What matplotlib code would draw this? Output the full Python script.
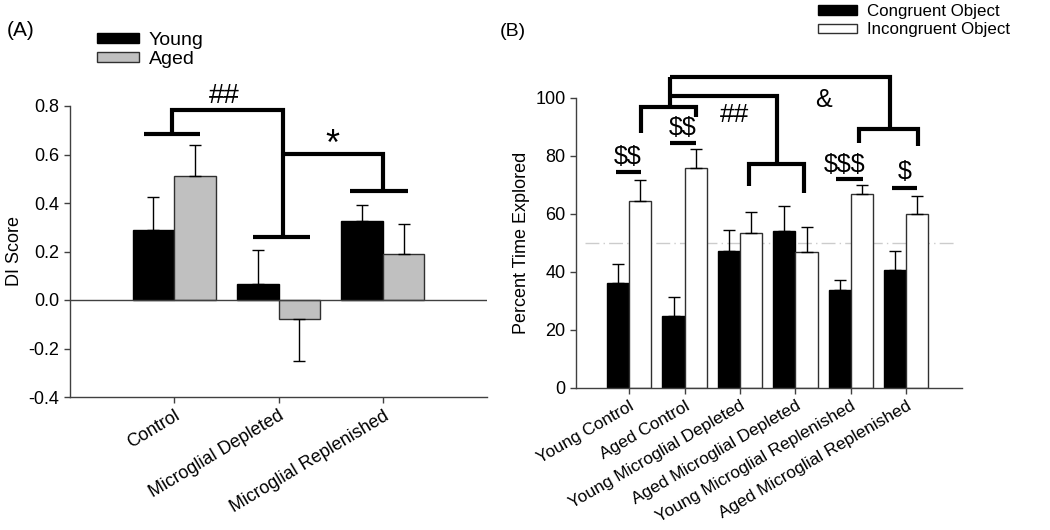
import numpy as np
import matplotlib
matplotlib.use('Agg')
from matplotlib import pyplot as plt
from matplotlib.patches import Patch

plt.rcParams['font.family'] = ['Liberation Sans', 'DejaVu Sans']
plt.rcParams['axes.unicode_minus'] = False
plt.rcParams['text.parse_math'] = False

# panel A: DI score
groups_a = ['Control', 'Microglial Depleted', 'Microglial Replenished']
young = [0.29, 0.065, 0.327]
young_err = [0.136, 0.141, 0.066]
aged = [0.51, -0.077, 0.19]
aged_err = [0.13, 0.173, 0.125]

# panel B: percent time explored
groups_b = ['Young Control', 'Aged Control', 'Young Microglial Depleted',
            'Aged Microglial Depleted', 'Young Microglial Replenished',
            'Aged Microglial Replenished']
congruent = [36.0, 24.6, 47.2, 54.0, 33.8, 40.6]
congruent_err = [6.8, 6.7, 7.2, 8.8, 3.3, 6.6]
incongruent = [64.5, 75.9, 53.3, 46.7, 66.8, 59.9]
incongruent_err = [7.1, 6.4, 7.3, 8.8, 3.2, 6.2]

W, H = 1050, 530
fig = plt.figure(figsize=(10.5, 5.3), dpi=100)
spine_col = '#404040'


def one_sided(vals, errs):
    # error bar only away from zero
    lo = [e if v < 0 else 0 for v, e in zip(vals, errs)]
    hi = [e if v >= 0 else 0 for v, e in zip(vals, errs)]
    return [lo, hi]


def style_axes(ax):
    for s in ['top', 'right']:
        ax.spines[s].set_visible(False)
    for s in ['left', 'bottom']:
        ax.spines[s].set_color(spine_col)
        ax.spines[s].set_linewidth(1)
    ax.tick_params(direction='out', length=4, width=1, color=spine_col, labelsize=13)


def bracket(ax, xs, ys, lw=3):
    ax.plot(xs, ys, color='black', lw=lw, solid_capstyle='butt',
            solid_joinstyle='miter', clip_on=False)


# ---------------- (A) ----------------
ax_a = fig.add_axes([70 / W, 1 - 397 / H, (487 - 70) / W, (397 - 106) / H])
xa = np.arange(len(groups_a))
ek = dict(ecolor='black', elinewidth=1, capsize=4, capthick=1)
ax_a.bar(xa - 0.4, young, 0.4, align='edge', color='black', edgecolor='black', lw=1)
ax_a.bar(xa, aged, 0.4, align='edge', color='#c0c0c0', edgecolor='#303030', lw=1)
ax_a.errorbar(xa - 0.2, young, yerr=one_sided(young, young_err), fmt='none', **ek)
ax_a.errorbar(xa + 0.2, aged, yerr=one_sided(aged, aged_err), fmt='none', **ek)
ax_a.axhline(0, color=spine_col, lw=1)
ax_a.set_xlim(-1, 3)
ax_a.set_ylim(-0.4, 0.8)
ax_a.set_yticks(np.arange(-0.4, 0.81, 0.2))
ax_a.set_yticklabels(['%.1f' % v for v in np.arange(-0.4, 0.81, 0.2)])
ax_a.set_xticks(xa)
ax_a.set_xticklabels(groups_a, rotation=31, ha='right', rotation_mode='anchor')
ax_a.set_ylabel('DI Score', fontsize=13)
style_axes(ax_a)

bracket(ax_a, [-0.29, 0.25], [0.683, 0.683])
bracket(ax_a, [-0.02, -0.02, 1.04, 1.04], [0.683, 0.785, 0.785, 0.258])
bracket(ax_a, [0.76, 1.30], [0.258, 0.258])
bracket(ax_a, [1.04, 2.0, 2.0], [0.602, 0.602, 0.449])
bracket(ax_a, [1.69, 2.24], [0.449, 0.449])
ax_a.text(0.48, 0.84, '##', fontsize=20, ha='center', va='center')
ax_a.text(1.52, 0.637, '*', fontsize=26, ha='center', va='center')

fig.text(7 / W, 1 - 30 / H, '(A)', fontsize=15, va='center')
fig.legend(handles=[Patch(facecolor='black', edgecolor='black', label='Young'),
                    Patch(facecolor='#c0c0c0', edgecolor='#303030', label='Aged')],
           loc='upper left', bbox_to_anchor=(97 / W, 1 - 32 / H), frameon=False,
           fontsize=14, handlelength=2.16, handleheight=0.4, labelspacing=0.08,
           handletextpad=0.5, borderpad=0, borderaxespad=0)

# ---------------- (B) ----------------
ax_b = fig.add_axes([576 / W, 1 - 387.7 / H, (961.7 - 576) / W, 290 / H])
xb = np.arange(len(groups_b))
ax_b.bar(xb - 0.4, congruent, 0.4, align='edge', color='black', edgecolor='black', lw=1)
ax_b.bar(xb, incongruent, 0.4, align='edge', color='white', edgecolor='#303030', lw=1)
ax_b.errorbar(xb - 0.2, congruent, yerr=[[0] * 6, congruent_err], fmt='none', **ek)
ax_b.errorbar(xb + 0.2, incongruent, yerr=[[0] * 6, incongruent_err], fmt='none', **ek)
ax_b.hlines(50, -0.8, 5.9, color='#cccccc', lw=1, linestyles=[(0, (10, 3, 1, 3))], zorder=0.5)
ax_b.set_xlim(-0.96, 6)
ax_b.set_ylim(0, 100)
ax_b.set_yticks(np.arange(0, 101, 20))
ax_b.set_xticks(xb)
ax_b.set_xticklabels(groups_b, rotation=30, ha='right', rotation_mode='anchor')
ax_b.set_ylabel('Percent Time Explored', fontsize=13)
style_axes(ax_b)
ax_b.tick_params(axis='x', labelsize=12.4)

# significance marks
bracket(ax_b, [-0.24, 0.22], [74.3, 74.3])
bracket(ax_b, [0.73, 1.2], [84.5, 84.5])
bracket(ax_b, [0.22, 0.22, 1.2, 1.2], [87.7, 96.9, 96.9, 93.3])
bracket(ax_b, [0.73, 0.73], [96.9, 107.3])
bracket(ax_b, [0.73, 2.67, 2.67], [100.7, 100.7, 77.0])
bracket(ax_b, [2.16, 2.16, 3.15, 3.15], [69.7, 77.0, 77.0, 67.2])
bracket(ax_b, [0.73, 4.71, 4.71], [107.3, 107.3, 89.1])
bracket(ax_b, [4.15, 4.15, 5.22, 5.22], [84.3, 89.1, 89.1, 83.5])
bracket(ax_b, [3.74, 4.22], [72.0, 72.0])
bracket(ax_b, [4.75, 5.19], [68.8, 68.8])
ax_b.text(-0.03, 79.6, '$$', fontsize=18, ha='center', va='center')
ax_b.text(0.97, 89.4, '$$', fontsize=18, ha='center', va='center')
ax_b.text(1.9, 94.0, '##', fontsize=19, ha='center', va='center')
ax_b.text(3.5, 99.3, '&', fontsize=18, ha='center', va='center')
ax_b.text(3.89, 76.8, '$$$', fontsize=18, ha='center', va='center')
ax_b.text(4.97, 74.5, '$', fontsize=18, ha='center', va='center')

fig.text(500 / W, 1 - 31 / H, '(B)', fontsize=14, va='center')
fig.legend(handles=[Patch(facecolor='black', edgecolor='black', label='Congruent Object'),
                    Patch(facecolor='white', edgecolor='#303030', label='Incongruent Object')],
           loc='upper left', bbox_to_anchor=(818 / W, 1 - 4 / H), frameon=False,
           fontsize=12.2, handlelength=2.3, handleheight=0.45, labelspacing=0.2,
           handletextpad=0.57, borderpad=0, borderaxespad=0)

plt.savefig('out.png', dpi=100)
